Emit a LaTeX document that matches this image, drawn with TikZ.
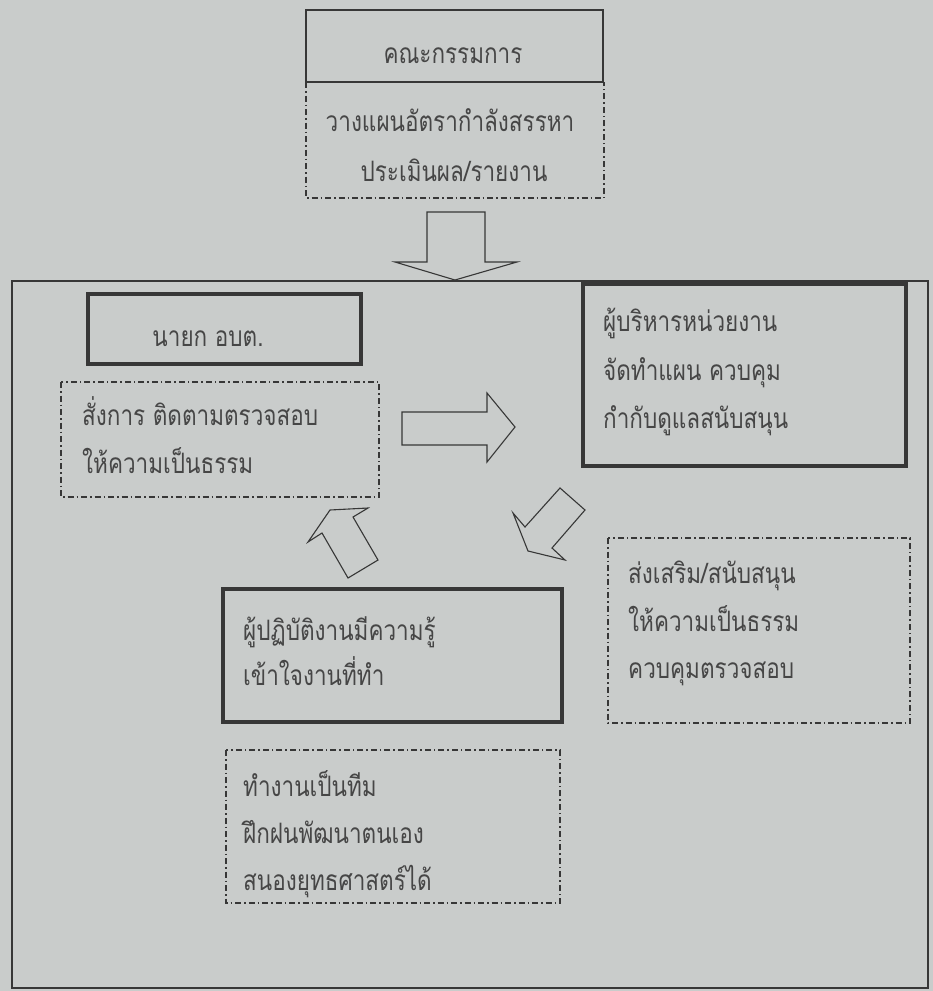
\documentclass[tikz,border=0pt]{standalone}
\usepackage{fontspec}
\usepackage{graphicx}
\newfontfamily\thaifont[Script=Thai]{Loma}
\newcommand\thtxt[1]{\scalebox{1}[1.25]{#1}}
\definecolor{paper}{RGB}{201,204,203}
\definecolor{ink}{RGB}{55,55,55}
\definecolor{txt}{RGB}{70,70,70}
\tikzset{
  thinbox/.style={draw=ink, line width=1.1pt},
  thickbox/.style={draw=ink, line width=3.5pt},
  dashbox/.style={draw=ink, line width=1.1pt, dash pattern=on 6pt off 3pt on 1.5pt off 3pt},
  blockarrow/.style={draw=ink, line width=1.1pt, line join=miter},
  lbl/.style={text=txt, font=\thaifont\fontsize{22.5}{25}\selectfont, inner sep=0pt, anchor=base west},
  clbl/.style={text=txt, font=\thaifont\fontsize{22.5}{25}\selectfont, inner sep=0pt, anchor=base}
}
\begin{document}
\begin{tikzpicture}[x=1pt,y=-1pt]
\useasboundingbox (0,0) rectangle (933,991);
\fill[paper] (0,0) rectangle (933,991);
% outer frame
\draw[thinbox] (12,281) rectangle (928,988);
% top committee
\draw[thinbox] (306,10) rectangle (603,82);
\draw[dashbox] (306,82) -- (306,198) -- (604,198) -- (604,82);
\node[clbl] (t1) at (453,63) {\thtxt{คณะกรรมการ}};
\node[clbl] (t2) at (450,131) {\thtxt{วางแผนอัตรากำลังสรรหา}};
\node[clbl] (t3) at (454,181) {\thtxt{ประเมินผล/รายงาน}};
% down arrow
\draw[blockarrow] (427,212) -- (485,212) -- (485,262) -- (517,262) -- (455,280) -- (395,262) -- (427,262) -- cycle;
% mayor
\draw[thickbox] (88,294) rectangle (361,364);
\node[clbl] (m1) at (208,346) {\thtxt{นายก อบต.}};
\draw[dashbox] (61,382) rectangle (379,497);
\node[lbl] (m2) at (82,425) {\thtxt{สั่งการ ติดตามตรวจสอบ}};
\node[lbl] (m3) at (82,473) {\thtxt{ให้ความเป็นธรรม}};
% right arrow
\draw[blockarrow] (402,412) -- (487,412) -- (487,393) -- (515,427) -- (487,462) -- (487,445) -- (402,445) -- cycle;
% executive
\draw[thickbox] (583,284) rectangle (906,466);
\node[lbl] (e1) at (603,331) {\thtxt{ผู้บริหารหน่วยงาน}};
\node[lbl] (e2) at (603,380) {\thtxt{จัดทำแผน ควบคุม}};
\node[lbl] (e3) at (603,428) {\thtxt{กำกับดูแลสนับสนุน}};
% down-left arrow
\draw[blockarrow] (560,488) -- (585,510) -- (552,548) -- (565,560) -- (528,551) -- (513,513) -- (525,527) -- cycle;
% promote box
\draw[dashbox] (608,538) rectangle (910,723);
\node[lbl] (p1) at (628,583) {\thtxt{ส่งเสริม/สนับสนุน}};
\node[lbl] (p2) at (628,631) {\thtxt{ให้ความเป็นธรรม}};
\node[lbl] (p3) at (628,678) {\thtxt{ควบคุมตรวจสอบ}};
% up-left arrow
\draw[blockarrow] (348,578) -- (378,560) -- (353,517) -- (368,508) -- (330,510) -- (308,542) -- (322,533) -- cycle;
% workers
\draw[thickbox] (223,589) rectangle (562,722);
\node[lbl] (w1) at (243,640) {\thtxt{ผู้ปฏิบัติงานมีความรู้}};
\node[lbl] (w2) at (243,685) {\thtxt{เข้าใจงานที่ทำ}};
\draw[dashbox] (226,750) rectangle (560,903);
\node[lbl] (w3) at (243,796) {\thtxt{ทำงานเป็นทีม}};
\node[lbl] (w4) at (243,843) {\thtxt{ฝึกฝนพัฒนาตนเอง}};
\node[lbl] (w5) at (243,890) {\thtxt{สนองยุทธศาสตร์ได้}};
\end{tikzpicture}
\end{document}
